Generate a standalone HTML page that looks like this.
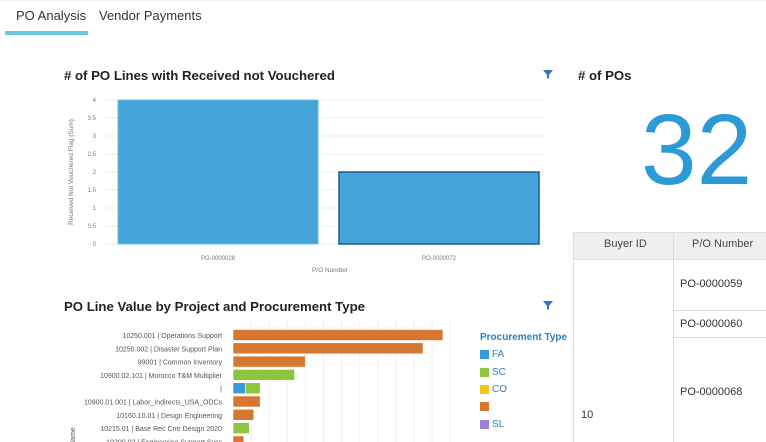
<!DOCTYPE html>
<html><head><meta charset="utf-8"><style>
body{margin:0;width:766px;height:442px;overflow:hidden;background:#fff;font-family:"Liberation Sans",sans-serif;position:relative}
.a{position:absolute;white-space:nowrap}
.t{font-weight:bold;font-size:13.2px;color:#222}
</style></head><body>
<div class="a" style="left:0;top:0;width:766px;height:1px;background:#eef0f2"></div>
<div class="a" style="left:16px;top:8px;font-size:13px;color:#333">PO Analysis</div>
<div class="a" style="left:5px;top:31px;width:83px;height:4px;background:#6cc8e0"></div>
<div class="a" style="left:99px;top:8px;font-size:13px;color:#333">Vendor Payments</div>

<div class="a t" style="left:64px;top:68px"># of PO Lines with Received not Vouchered</div>
<svg class="a" style="left:543px;top:70px" width="11" height="10"><path d="M0 0H10L6 5V9L4 8V5Z" fill="#3a6fc4"/></svg>
<div class="a t" style="left:578px;top:68px"># of POs</div>
<div class="a" style="left:641px;top:95px;font-size:100px;color:#2d9ad8;font-weight:300;line-height:110px">32</div>

<svg class="a" style="left:0;top:0" width="560" height="280" id="c1"></svg>

<div class="a t" style="left:64px;top:299px">PO Line Value by Project and Procurement Type</div>
<svg class="a" style="left:543px;top:301px" width="11" height="10"><path d="M0 0H10L6 5V9L4 8V5Z" fill="#3a6fc4"/></svg>
<svg class="a" style="left:0;top:320px" width="470" height="122" id="c2"></svg>

<div class="a" style="left:480px;top:332px;font-size:10px;font-weight:bold;color:#2a7fc4">Procurement Type</div>
<div id="leg"></div>

<div class="a" style="left:573px;top:232px;width:193px;height:210px;border-left:1px solid #ddd">
<div class="a" style="left:0;top:0;width:193px;height:26px;background:#efefef;border-top:1px solid #ddd;border-bottom:1px solid #ddd"></div>
<div class="a" style="left:99px;top:0;width:1px;height:210px;background:#ddd"></div>
<div class="a" style="left:30px;top:6px;font-size:11px;color:#444">Buyer ID</div>
<div class="a" style="left:118px;top:6px;font-size:11px;color:#444">P/O Number</div>
<div class="a" style="left:100px;top:78px;width:93px;height:1px;background:#ddd"></div>
<div class="a" style="left:100px;top:105px;width:93px;height:1px;background:#ddd"></div>
<div class="a" style="left:106px;top:46px;font-size:11px;color:#333">PO-0000059</div>
<div class="a" style="left:106px;top:86px;font-size:11px;color:#333">PO-0000060</div>
<div class="a" style="left:106px;top:154px;font-size:11px;color:#333">PO-0000068</div>
<div class="a" style="left:7px;top:177px;font-size:11px;color:#333">10</div>
</div>

<script>
const ns="http://www.w3.org/2000/svg";
function mk(p,t,a){const e=document.createElementNS(ns,t);for(const k in a)e.setAttribute(k,a[k]);p.appendChild(e);return e;}
// Chart 1
const c1Cats=["PO-0000028","PO-0000072"];
const c1Vals=[4,2];
const c1Ticks=[0,0.5,1,1.5,2,2.5,3,3.5,4];
const c1=document.getElementById('c1');
const y1=v=>244-v/4*144;
c1Ticks.forEach(t=>{
  const l=mk(c1,'line',{x1:106,x2:545,y1:y1(t),y2:y1(t),stroke:'#eee'});
  
  
  const tx=mk(c1,'text',{x:96,y:y1(t)+2,'font-size':6,fill:'#777','text-anchor':'end'});tx.textContent=t;
  
  
});
const bw=221;
c1Cats.forEach((c,i)=>{
  const x0=107+i*bw+11;
  const b=mk(c1,'rect',{x:x0,y:y1(c1Vals[i]),width:200,height:244-y1(c1Vals[i]),fill:'#45a5da',stroke:i==1?'#1f5f8a':'#6cbbe6','stroke-width':i==1?1.5:1});
  
  
  const tx=mk(c1,'text',{x:x0+100,y:260,'font-size':6,fill:'#777','text-anchor':'middle'});tx.textContent=c;
  
  
});
const xt=mk(c1,'text',{x:330,y:272,'font-size':6.5,fill:'#777','text-anchor':'middle'});xt.textContent='P/O Number';


const yt=mk(c1,'text',{x:0,y:0,'font-size':6.5,fill:'#777','text-anchor':'middle',transform:'translate(73,172) rotate(-90)'});yt.textContent='Received Not Vouchered Flag (Sum)';



// Chart 2
const c2Cats=["10250.001 | Operations Support","10250.002 | Disaster Support Plan","99001 | Common Inventory","10900.02.101 | Morocco T&M Multiplier","|","10900.01.001 | Labor_Indirects_USA_ODCs","10160.10.01 | Design Engineering","10215.01 | Base Rec Cntr Design 2020","10200.02 | Engineering Support Svcs"];
const serFA=[0,0,0,0,0.7,0,0,0,0];
const serSC=[0,0,0,3.4,0.8,0,0,0.9,0];
const serCO=[0,0,0,0,0,0,0,0,0];
const serBlank=[11.6,10.5,4.0,0,0,1.5,1.15,0,0.6];
const serSL=[0,0,0,0,0,0,0,0,0];
const series=[["FA",serFA,"#3a9ad9"],["SC",serSC,"#8cc63f"],["CO",serCO,"#f5c518"],["",serBlank,"#d6762f"],["SL",serSL,"#9b7fe0"]];
const c2=document.getElementById('c2');
const x2=v=>233+v*18.1;
for(let g=1;g<=12;g++){const l=mk(c2,'line',{x1:x2(g),x2:x2(g),y1:0,y2:122,stroke:'#eee'});
  
  }
c2Cats.forEach((c,i)=>{
  const cy=15+i*13.3;
  const tx=mk(c2,'text',{x:222,y:cy+3,'font-size':7,fill:'#555','text-anchor':'end'});tx.textContent=c;
  
  
  let acc=0;
  series.forEach(s=>{const v=s[1][i];if(!v)return;
    const r=mk(c2,'rect',{x:x2(acc),y:cy-5.5,width:x2(acc+v)-x2(acc),height:11,fill:s[2],stroke:'#fff','stroke-width':0.6});
    
    
    acc+=v;});
});
const y2t=mk(c2,'text',{x:0,y:0,'font-size':7,fill:'#555','text-anchor':'start',transform:'translate(75,126) rotate(-90)'});y2t.textContent='Name';


const leg=document.getElementById('leg');
series.forEach((s,i)=>{
  const d=document.createElement('div');
  d.className='a';d.style.cssText=`left:480px;top:${349+i*17.5}px;font-size:10px;color:#2a7fc4;display:flex;align-items:center`;
  d.innerHTML=`<span style="display:inline-block;width:9px;height:9px;background:${s[2]};margin-right:3px"></span>${s[0]}`;
  
  
  leg.appendChild(d);
});
</script>
</body></html>
